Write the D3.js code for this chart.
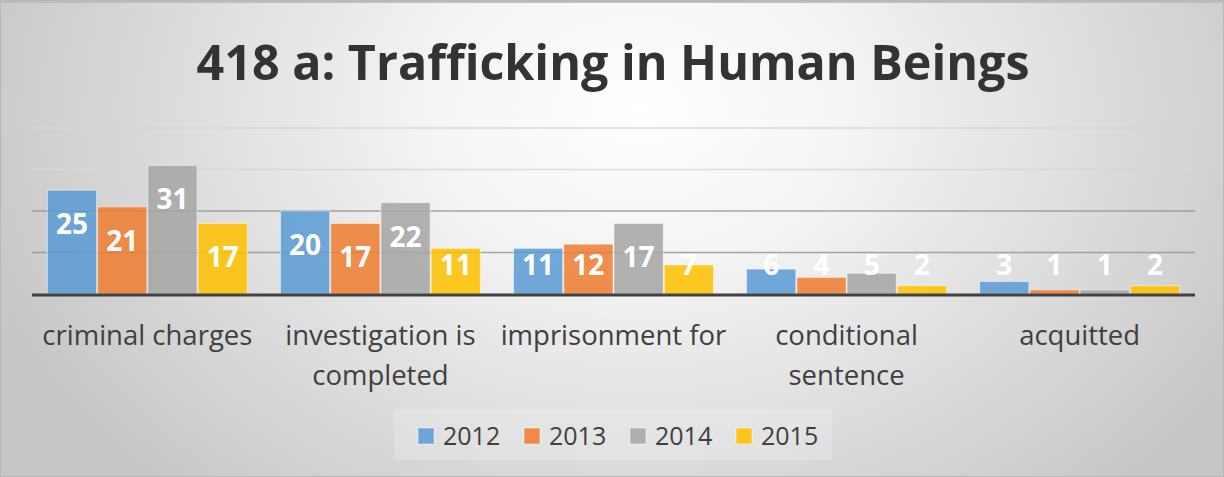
<!DOCTYPE html>
<html>
<head>
<meta charset="utf-8">
<script src="https://cdn.jsdelivr.net/npm/d3@7"></script>
<style>
  html, body { margin: 0; padding: 0; background: #fff; }
  svg { display: block; }
  text { font-family: "Open Sans", "Noto Sans", sans-serif; }
</style>
</head>
<body>
<svg id="chart" width="1224" height="477"></svg>
<script>
// Data
const title = "418 a: Trafficking in Human Beings";
const categories = ["criminal charges", "investigation is completed", "imprisonment for", "conditional sentence", "acquitted"];
const categoryLines = [["criminal charges"], ["investigation is", "completed"], ["imprisonment for"], ["conditional", "sentence"], ["acquitted"]];
const seriesNames = ["2012", "2013", "2014", "2015"];
const values2012 = [25, 20, 11, 6, 3];
const values2013 = [21, 17, 12, 4, 1];
const values2014 = [31, 22, 17, 5, 1];
const values2015 = [17, 11, 7, 2, 2];
const gridTicks = [0, 10, 20, 30, 40];
const colors = ["#5B9BD5", "#ED7D31", "#A5A5A5", "#FFC000"];

const seriesValues = [values2012, values2013, values2014, values2015];

const W = 1224, H = 477;
const svg = d3.select("#chart");

// Background: soft radial gradient, light in the upper middle
const defs = svg.append("defs");
const rg = defs.append("radialGradient")
  .attr("id", "bg")
  .attr("gradientUnits", "userSpaceOnUse")
  .attr("cx", 640).attr("cy", 110).attr("r", 700)
  .attr("gradientTransform", "translate(640,110) scale(1,0.75) translate(-640,-110)");
rg.append("stop").attr("offset", "0%").attr("stop-color", "#ffffff");
rg.append("stop").attr("offset", "30%").attr("stop-color", "#f4f4f4");
rg.append("stop").attr("offset", "100%").attr("stop-color", "#c6c6c6");

svg.append("rect").attr("x", 0).attr("y", 0).attr("width", W).attr("height", H).attr("fill", "url(#bg)");
svg.append("rect").attr("x", 0.5).attr("y", 0.5).attr("width", W - 1).attr("height", H - 1)
  .attr("fill", "none").attr("stroke", "#b8b8b8").attr("stroke-width", 1);
svg.append("line").attr("x1", 0).attr("x2", W).attr("y1", 2).attr("y2", 2).attr("stroke", "#bdbdbd").attr("stroke-width", 2);

// Title, sized to span its measured width
const titleText = svg.append("text")
  .attr("x", 613).attr("y", 80)
  .attr("text-anchor", "middle")
  .attr("font-weight", "bold")
  .attr("fill", "#333333")
  .attr("font-size", 56)
  .text(title);
{
  const w = titleText.node().getComputedTextLength();
  titleText.attr("font-size", 56 * 833 / w);
}

// Scales
const plotLeft = 32, plotRight = 1195, plotTop = 128, plotBottom = 294;
const x0 = d3.scaleBand().domain(categories).range([plotLeft, plotRight]).paddingInner(0.142).paddingOuter(0.066);
const x1 = d3.scaleBand().domain(seriesNames).range([0, x0.bandwidth()]).paddingInner(0.02);
const y = d3.scaleLinear().domain([0, 40]).range([plotBottom, plotTop]);

// Gridlines
svg.append("g").selectAll("line")
  .data(gridTicks.filter(t => t > 0))
  .join("line")
  .attr("x1", plotLeft).attr("x2", plotRight)
  .attr("y1", d => y(d)).attr("y2", d => y(d))
  .attr("stroke", (d, i) => i < 2 ? "#9a9a9a" : "#d6d6d6")
  .attr("stroke-opacity", 0.9)
  .attr("stroke-width", 1.5);

// Bars
const groups = svg.append("g").selectAll("g")
  .data(categories)
  .join("g")
  .attr("transform", d => `translate(${x0(d)},0)`);

groups.selectAll("rect")
  .data((c, ci) => seriesNames.map((s, si) => ({ s, si, v: seriesValues[si][ci] })))
  .join("rect")
  .attr("x", d => x1(d.s))
  .attr("y", d => y(d.v))
  .attr("width", x1.bandwidth())
  .attr("height", d => y(0) - y(d.v))
  .attr("fill", d => colors[d.si])
  .attr("fill-opacity", 0.86)
  .attr("stroke", "#ffffff")
  .attr("stroke-opacity", 0.5)
  .attr("stroke-width", 1);

// Axis baseline
svg.append("line")
  .attr("x1", plotLeft).attr("x2", plotRight)
  .attr("y1", y(0) + 1).attr("y2", y(0) + 1)
  .attr("stroke", "#404040").attr("stroke-width", 3);

// Value labels (inside end)
groups.selectAll("text.val")
  .data((c, ci) => seriesNames.map((s, si) => ({ s, si, v: seriesValues[si][ci] })))
  .join("text")
  .attr("class", "val")
  .attr("x", d => x1(d.s) + x1.bandwidth() / 2)
  .attr("y", d => Math.min(y(d.v) + 34, 265))
  .attr("dy", "0.35em")
  .attr("text-anchor", "middle")
  .attr("font-weight", "bold")
  .attr("font-size", 28)
  .attr("fill", "#ffffff")
  .text(d => d.v);

// Category labels
const catLabels = svg.append("g").selectAll("text")
  .data(categories)
  .join("text")
  .attr("x", d => x0(d) + x0.bandwidth() / 2)
  .attr("y", 335)
  .attr("text-anchor", "middle")
  .attr("font-size", 27.5)
  .attr("fill", "#404040");
catLabels.each(function (d, i) {
  const t = d3.select(this);
  categoryLines[i].forEach((line, li) => {
    t.append("tspan")
      .attr("x", x0(d) + x0.bandwidth() / 2)
      .attr("y", 335 + li * 40)
      .attr("dy", "0.35em")
      .text(line);
  });
});

// Legend
const legend = svg.append("g");
legend.append("rect").attr("x", 394).attr("y", 409).attr("width", 438).attr("height", 51)
  .attr("fill", "#ffffff").attr("fill-opacity", 0.18);
const legendX = d3.scalePoint().domain(seriesNames).range([418, 736]);
const items = legend.selectAll("g")
  .data(seriesNames)
  .join("g")
  .attr("transform", d => `translate(${legendX(d)},0)`);
items.append("rect")
  .attr("x", 0).attr("y", 428).attr("width", 16).attr("height", 16)
  .attr("fill", (d, i) => colors[i]).attr("fill-opacity", 0.86)
  .attr("stroke", "#ffffff").attr("stroke-opacity", 0.5);
items.append("text")
  .attr("x", 25).attr("y", 436)
  .attr("dy", "0.35em")
  .attr("font-size", 25)
  .attr("fill", "#404040")
  .text(d => d);
</script>
</body>
</html>
